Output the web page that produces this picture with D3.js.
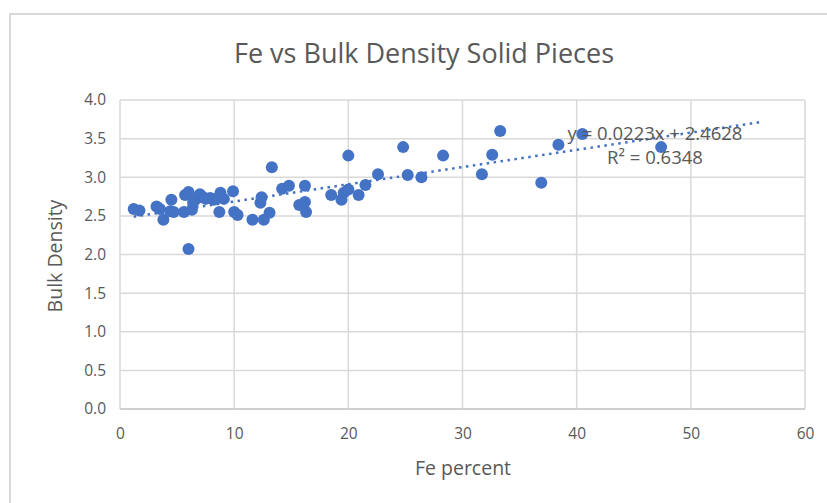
<!DOCTYPE html>
<html>
<head>
<meta charset="utf-8" />
<title>Fe vs Bulk Density Solid Pieces</title>
<style>
html, body{
	margin: 0px;
	padding: 0px;
	background: #fff;
}
text { font-family: "Open Sans", "Noto Sans", sans-serif; fill: #595959; }
</style>
</head>
<body>
<svg id="chart" width="827" height="503"></svg>
<script src="https://d3js.org/d3.v7.min.js"></script>
<script>

// Fe percent vs bulk density
var fePercent = [1.2, 1.7, 3.2, 3.5, 3.8, 4.5, 4.4, 4.7, 5.6, 5.7, 6.0, 6.0, 6.3, 6.4, 6.7, 7.0, 7.3, 7.5, 7.9, 8.2,
	8.6, 8.8, 8.7, 9.1, 9.9, 10.0, 10.3, 11.6, 12.3, 12.4, 12.6, 13.1, 13.3, 14.2, 14.8, 15.7, 16.2, 16.3, 16.2,
	18.5, 19.4, 19.6, 20.0, 20.0, 20.9, 21.5, 22.6, 24.8, 25.2, 26.4, 28.3, 31.7, 32.6, 33.3, 36.9, 38.4, 40.5, 47.4];
var bulkDensity = [2.59, 2.57, 2.62, 2.59, 2.45, 2.71, 2.56, 2.55, 2.55, 2.77, 2.81, 2.07, 2.58, 2.67, 2.72, 2.78, 2.74, 2.72, 2.73, 2.71,
	2.73, 2.80, 2.55, 2.72, 2.82, 2.55, 2.51, 2.45, 2.67, 2.74, 2.45, 2.54, 3.13, 2.85, 2.89, 2.64, 2.68, 2.55, 2.89,
	2.77, 2.71, 2.80, 2.84, 3.28, 2.77, 2.90, 3.04, 3.39, 3.03, 3.00, 3.28, 3.04, 3.29, 3.60, 2.93, 3.42, 3.56, 3.39];

var xTicks = [0, 10, 20, 30, 40, 50, 60];
var yTicks = [0, 0.5, 1.0, 1.5, 2.0, 2.5, 3.0, 3.5, 4.0];

// linear trendline y = 0.0223x + 2.4628, R² = 0.6348
var trendSlope = 0.0223, trendIntercept = 2.4628, trendR2 = 0.6348;
var trendRange = [1.2, 56.2];

var svg = d3.select("#chart");

// chart border
svg.append("rect")
	.attr("x", 10).attr("y", 14)
	.attr("width", 840).attr("height", 520)
	.attr("fill", "none")
	.attr("stroke", "#d9d9d9")
	.attr("stroke-width", 2);

var x = d3.scaleLinear().domain([0, 60]).range([120, 805]);
var y = d3.scaleLinear().domain([0, 4]).range([409, 100]);

// gridlines
svg.append("g").selectAll("line.h")
	.data(yTicks)
	.enter().append("line")
	.attr("x1", x(0)).attr("x2", x(60))
	.attr("y1", d => y(d)).attr("y2", d => y(d))
	.attr("stroke", d => d === 0 ? "#bfbfbf" : "#d9d9d9")
	.attr("stroke-width", 1.5);

svg.append("g").selectAll("line.v")
	.data(xTicks)
	.enter().append("line")
	.attr("y1", y(0)).attr("y2", y(4))
	.attr("x1", d => x(d)).attr("x2", d => x(d))
	.attr("stroke", "#d9d9d9")
	.attr("stroke-width", 1.5);

// axes, only the labels
var xAxis = svg.append("g")
	.attr("transform", "translate(0," + (y(0) + 9) + ")")
	.call(d3.axisBottom(x).tickValues(xTicks).tickSize(0).tickPadding(10));
var yAxis = svg.append("g")
	.attr("transform", "translate(" + (x(0) - 8) + ",0)")
	.call(d3.axisLeft(y).tickValues(yTicks).tickFormat(d3.format(".1f")).tickSize(0).tickPadding(6));
[xAxis, yAxis].forEach(function(a){
	a.select(".domain").remove();
	a.selectAll("text").style("font-size", "15.5px").attr("fill", "#595959")
		.style("font-family", '"Open Sans", sans-serif');
});

// points
svg.append("g").selectAll("circle")
	.data(fePercent.map((d, i) => [d, bulkDensity[i]]))
	.enter().append("circle")
	.attr("cx", d => x(d[0]))
	.attr("cy", d => y(d[1]))
	.attr("r", 6)
	.attr("fill", "#4472c4");

// trendline
svg.append("line")
	.attr("x1", x(trendRange[0])).attr("y1", y(trendSlope * trendRange[0] + trendIntercept))
	.attr("x2", x(trendRange[1])).attr("y2", y(trendSlope * trendRange[1] + trendIntercept))
	.attr("stroke", "#4472c4")
	.attr("stroke-width", 2.5)
	.attr("stroke-dasharray", "2.5,4.5");

// trendline label
svg.append("text")
	.attr("x", 655).attr("y", 140)
	.attr("text-anchor", "middle")
	.style("font-size", "18.5px")
	.text("y = " + trendSlope + "x + " + trendIntercept);
svg.append("text")
	.attr("x", 655).attr("y", 164)
	.attr("text-anchor", "middle")
	.style("font-size", "18.5px")
	.text("R² = " + trendR2);

// titles
svg.append("text")
	.attr("x", 424).attr("y", 63)
	.attr("text-anchor", "middle")
	.style("font-size", "27px")
	.text("Fe vs Bulk Density Solid Pieces");

svg.append("text")
	.attr("x", 463).attr("y", 475)
	.attr("text-anchor", "middle")
	.style("font-size", "19.5px")
	.text("Fe percent");

svg.append("text")
	.attr("transform", "translate(62,256) rotate(-90)")
	.attr("text-anchor", "middle")
	.style("font-size", "19.5px")
	.text("Bulk Density");

</script>
</body>
</html>
